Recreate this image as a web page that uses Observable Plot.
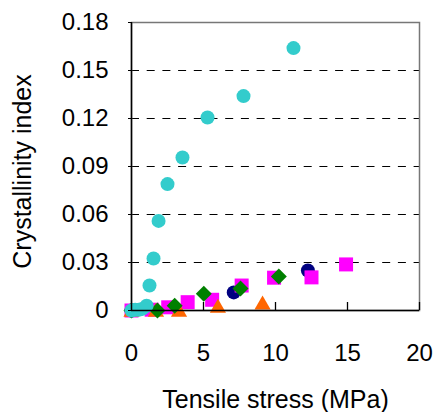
<!DOCTYPE html>
<html>
<head>
<meta charset="utf-8">
<script src="https://cdn.jsdelivr.net/npm/d3@7"></script>
<script src="https://cdn.jsdelivr.net/npm/@observablehq/plot@0.6"></script>
<style>
  html, body { margin: 0; padding: 0; background: #fff; }
  #chart svg { display: block; }
</style>
</head>
<body>
<div id="chart"></div>
<script>
// ---- data ----
const xTicks = [0, 5, 10, 15, 20];
const xInnerTicks = [5, 10, 15, 20];
const yTicks = [0, 0.03, 0.06, 0.09, 0.12, 0.15, 0.18];
const yGrid = [0.03, 0.06, 0.09, 0.12, 0.15];

const navyX = [0, 7.1, 12.25];
const navyY = [0, 0.0113, 0.025];

const magentaX = [0, 1.4, 2.55, 3.9, 5.6, 7.65, 9.9, 12.5, 14.9];
const magentaY = [0, 0.0005, 0.002, 0.0052, 0.0067, 0.0156, 0.0205, 0.0207, 0.0288];

const orangeX = [0, 1.7, 3.3, 6.0, 9.1];
const orangeY = [-0.001, -0.001, -0.001, 0.0015, 0.0036];

const greenX = [0, 1.8, 3.0, 5.02, 7.57, 10.23];
const greenY = [0, 0, 0.003, 0.0105, 0.0138, 0.0213];

const cyanX = [0, 0.25, 0.5, 0.75, 1.05, 1.25, 1.53, 1.88, 2.5, 3.54, 5.28, 7.78, 11.25];
const cyanY = [0, 0.0005, 0.0005, 0.001, 0.003, 0.0156, 0.0325, 0.056, 0.079, 0.0956, 0.1206, 0.134, 0.164];

const xLabel = "Tensile stress (MPa)";
const yLabel = "Crystallinity index";

const rows = (xs, ys) => xs.map((x, i) => ({x, y: ys[i]}));
const navy = rows(navyX, navyY);
const magenta = rows(magentaX, magentaY);
const orange = rows(orangeX, orangeY);
const green = rows(greenX, greenY);
const cyan = rows(cyanX, cyanY);

const W = 433, H = 412;
const mL = 131, mR = 14, mT = 22, mB = 102;

const chart = Plot.plot({
  width: W,
  height: H,
  marginLeft: mL,
  marginRight: mR,
  marginTop: mT,
  marginBottom: mB,
  style: {fontFamily: "'Liberation Sans', Arial, sans-serif", background: "#fff", color: "#000", overflow: "visible"},
  x: {domain: [0, 20]},
  y: {domain: [0, 0.18]},
  marks: [
    Plot.gridY(yGrid, {stroke: "#000", strokeOpacity: 1, strokeWidth: 1, strokeDasharray: "8,7.7"}),
    Plot.frame({stroke: "#777", strokeWidth: 1.5}),
    Plot.tickX(xInnerTicks, {stroke: "#000", strokeWidth: 1.3, insetTop: H - mT - mB - 8}),
    Plot.dot(navy, {x: "x", y: "y", r: 7, fill: "#000080", stroke: "none"}),
    Plot.dot(magenta, {x: "x", y: "y", symbol: "square", r: 7.9, fill: "#FF00FF", stroke: "none"}),
    Plot.dot(orange, {x: "x", y: "y", symbol: "triangle", r: 6, fill: "#FF6600", stroke: "none"}),
    Plot.dot(green, {x: "x", y: "y", symbol: "diamond2", r: 7.2, fill: "#008000", stroke: "none"}),
    Plot.dot(cyan, {x: "x", y: "y", r: 7, fill: "#33CCCC", stroke: "none"}),
    Plot.ruleX([0], {stroke: "#000", strokeWidth: 1.5}),
    Plot.ruleY([0], {stroke: "#000", strokeWidth: 1.5}),
    Plot.axisY(yTicks, {tickSize: 3, tickPadding: 20, fontSize: 24, label: null,
      tickFormat: d => d === 0 ? "0" : d.toFixed(2)}),
    Plot.axisX(xTicks, {tickSize: 0, tickPadding: 33, fontSize: 24, label: null,
      tickFormat: d => String(d)}),
    Plot.text([xLabel], {frameAnchor: "bottom", dy: 89, fontSize: 25, lineAnchor: "middle", textAnchor: "middle", text: d => d}),
    Plot.text([yLabel], {frameAnchor: "left", dx: -109, dy: 5, rotate: -90, fontSize: 25, lineAnchor: "middle", textAnchor: "middle", text: d => d})
  ]
});
document.getElementById("chart").appendChild(chart);
</script>
</body>
</html>
